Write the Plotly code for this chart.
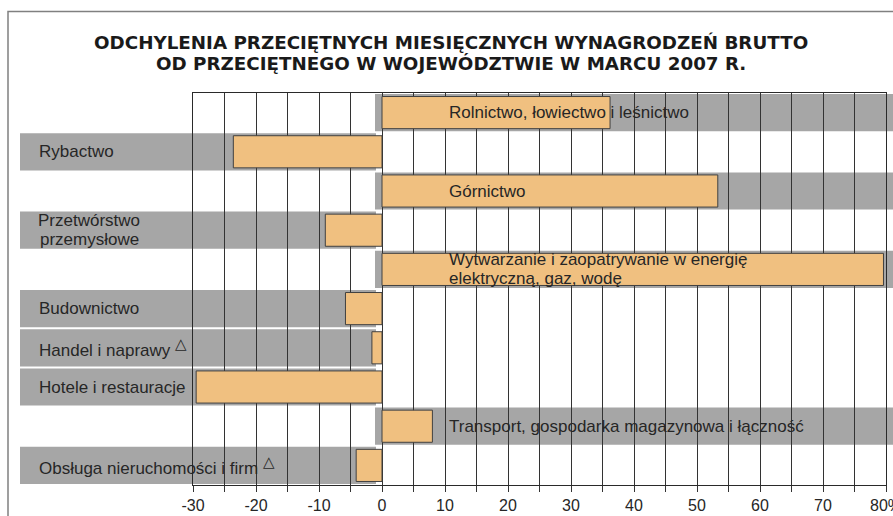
import plotly.graph_objects as go

# ---------------- data ----------------
sectors = [
    "Rolnictwo, łowiectwo i leśnictwo",
    "Rybactwo",
    "Górnictwo",
    "Przetwórstwo<br>przemysłowe",
    "Wytwarzanie i zaopatrywanie w energię<br>elektryczną, gaz, wodę",
    "Budownictwo",
    "Handel i naprawy",
    "Hotele i restauracje",
    "Transport, gospodarka magazynowa i łączność",
    "Obsługa nieruchomości i firm",
]
notes = ["", "", "", "", "", "", "△", "", "", "△"]
values = [36.2, -23.6, 53.3, -9.0, 79.6, -5.8, -1.6, -29.5, 8.0, -4.1]

tick_vals = [-30, -20, -10, 0, 10, 20, 30, 40, 50, 60, 70, 80]
tick_text = ["-30", "-20", "-10", "0", "10", "20", "30", "40", "50", "60", "70", "80%"]
minor_vals = [-25, -15, -5, 5, 15, 25, 35, 45, 55, 65, 75]

title_lines = [
    "ODCHYLENIA PRZECIĘTNYCH MIESIĘCZNYCH WYNAGRODZEŃ BRUTTO",
    "OD PRZECIĘTNEGO W WOJEWÓDZTWIE W MARCU 2007 R.",
]

# ---------------- layout geometry ----------------
W, H = 893, 516
L, R, T, B = 193, 7, 93, 31
PW, PH = W - L - R, H - T - B


def pxx(px):
    return (px - L) / PW


def pxy(py):
    return (H - B - py) / PH


BAR_COLOR = "#F0C080"
BAR_LINE = "#404040"
BAND = "#A6A6A6"
GRID = "#333333"
TEXT = "#262626"
LABEL_FONT = dict(family="Liberation Sans, Arial, sans-serif", size=17, color=TEXT)

fig = go.Figure()
fig.add_trace(
    go.Bar(
        x=values,
        y=sectors,
        orientation="h",
        marker=dict(color=BAR_COLOR, line=dict(color=BAR_LINE, width=1)),
        hoverinfo="skip",
        showlegend=False,
    )
)

shapes = []
annotations = []
LINE_GAP = 19
for i, (name, val, note) in enumerate(zip(sectors, values, notes)):
    # grey label band
    if val >= 0:
        x0, x1 = pxx(375), 1.05
    else:
        x0, x1 = pxx(20), pxx(376)
    shapes.append(
        dict(
            type="rect", xref="paper", yref="y",
            x0=x0, x1=x1, y0=i - 0.475, y1=i + 0.475,
            fillcolor=BAND, line=dict(width=0), layer="below",
        )
    )
    lines = name.split("<br>")
    n = len(lines)
    for k, line in enumerate(lines):
        ys = ((n - 1) / 2 - k) * LINE_GAP
        txt = line
        if k == n - 1 and note:
            txt = line + ' <sup><span style="font-size:15px">' + note + "</span></sup>"
        if val >= 0:
            ann = dict(xref="x", x=10.3, xanchor="left")
        elif n == 1:
            ann = dict(xref="paper", x=pxx(37), xanchor="left")
        else:
            ann = dict(xref="paper", x=pxx(89), xanchor="center")
        ann.update(
            yref="y", y=i, yanchor="middle", yshift=ys, text=txt,
            showarrow=False, font=LABEL_FONT,
        )
        annotations.append(ann)

# outer frame
shapes.append(
    dict(
        type="rect", xref="paper", yref="paper",
        x0=pxx(8), x1=pxx(W + 20), y0=pxy(11.5), y1=pxy(H + 20),
        line=dict(color="#808080", width=1.5), fillcolor="rgba(0,0,0,0)",
        layer="below",
    )
)

# title lines
for py, line in zip([42.5, 64], title_lines):
    annotations.append(
        dict(
            xref="paper", yref="paper", x=pxx(451), y=pxy(py),
            xanchor="center", yanchor="middle", showarrow=False, text=line,
            font=dict(family="DejaVu Sans, sans-serif", size=18.3, color="#1a1a1a", weight="bold"),
        )
    )

fig.update_layout(
    width=W, height=H,
    autosize=False,
    margin=dict(l=L, r=R, t=T, b=B, pad=0, autoexpand=False),
    paper_bgcolor="white",
    plot_bgcolor="rgba(0,0,0,0)",
    bargap=0.18,
    showlegend=False,
    shapes=shapes,
    annotations=annotations,
    xaxis=dict(
        range=[tick_vals[0], tick_vals[-1]],
        automargin=False,
        tickmode="array", tickvals=tick_vals, ticktext=tick_text,
        ticklabeloverflow="allow",
        showgrid=True, gridcolor=GRID, gridwidth=1,
        zeroline=False,
        showline=True, mirror=True, linecolor="#2a2a2a", linewidth=1,
        ticks="outside", ticklen=6, tickcolor=GRID, tickwidth=1,
        ticklabelstandoff=0,
        tickfont=dict(family="Liberation Sans, Arial, sans-serif", size=16, color=TEXT),
        minor=dict(
            tickmode="array", tickvals=minor_vals,
            ticks="outside", ticklen=6, tickcolor=GRID, tickwidth=1,
            showgrid=True, gridcolor=GRID, gridwidth=1,
        ),
        fixedrange=True,
    ),
    yaxis=dict(
        type="category", autorange="reversed", automargin=False,
        showticklabels=False, showgrid=False, zeroline=False,
        showline=True, mirror=True, linecolor="#2a2a2a", linewidth=1,
        ticks="", fixedrange=True,
    ),
)

fig.write_html(
    "out.html",
    config={"displayModeBar": False},
    post_script="document.body.style.margin='0px';",
)
